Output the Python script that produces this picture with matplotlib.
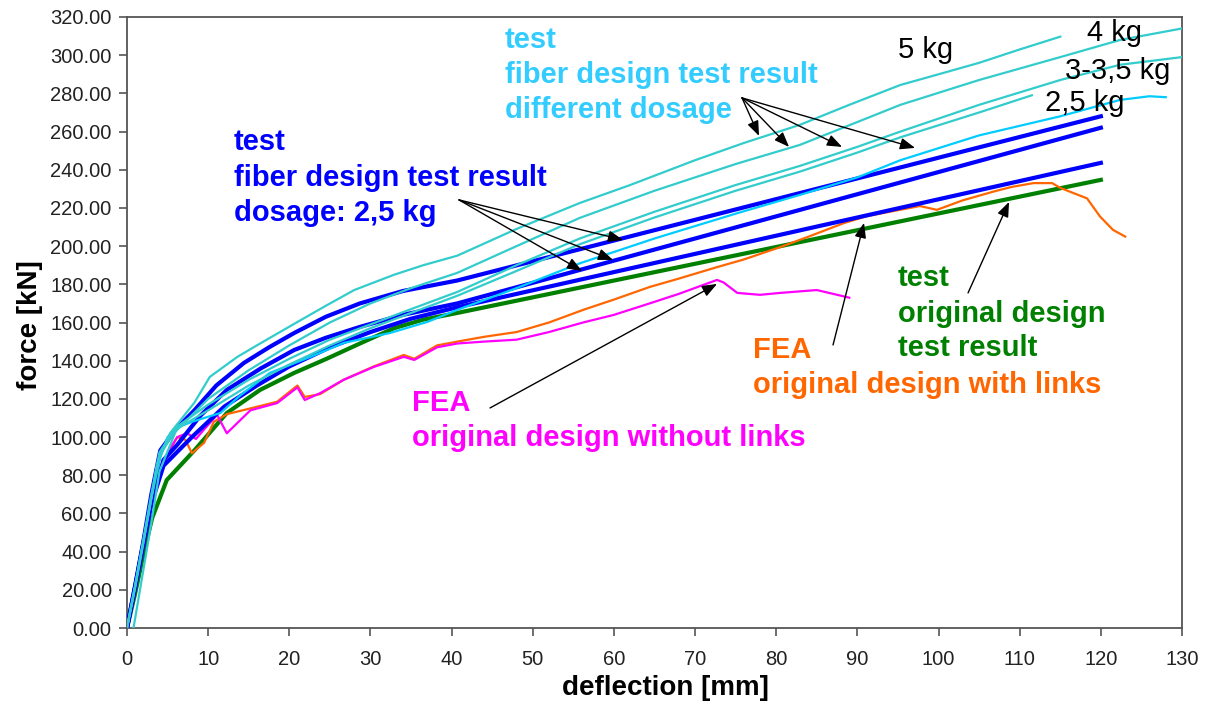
import matplotlib
matplotlib.use("Agg")
import matplotlib.pyplot as plt

plt.rcParams['font.family'] = ['Liberation Sans', 'DejaVu Sans']

# ---------------- data (deflection [mm], force [kN]) ----------------
# fiber design, 5 kg
x_5kg = [0, 1, 2, 3, 3.7, 5.3, 8.3, 10.2, 13.6, 16.4, 21.3, 24.6, 28, 32.9, 36.5, 40.7, 48, 55.8,
         62, 70, 76, 82.9, 89, 95.3, 100, 105, 110, 115]
y_5kg = [0, 22, 45, 68, 86, 102, 118, 131.5, 142, 149, 161, 169, 177, 185, 190, 195, 209, 222.6,
         232, 245, 254, 263.5, 274, 284.4, 290, 296, 303, 309.7]
# fiber design, 4 kg
x_4kg = [0.8, 2, 3, 4, 6, 10, 15, 20, 25, 30, 35, 40.7, 48, 55.8, 65, 75, 82.9, 90, 95.3, 105, 115,
         122.4, 130]
y_4kg = [0, 30, 55, 82, 103, 120, 135, 148, 160, 170, 178, 186, 200, 214.8, 229, 243, 253, 265, 274,
         287, 299, 308, 314]
# fiber design, 3-3,5 kg (two specimens)
x_3kg_a = [0, 1, 2, 3, 4, 6, 10, 15, 20, 25, 30, 35, 40.7, 48, 55.8, 65, 75, 82.9, 90, 95.3, 105, 115,
           122.4, 130]
y_3kg_a = [0, 22, 46, 70, 92, 105, 117, 130, 141, 151, 159, 167, 176, 190, 204, 218, 232, 242, 252,
           260, 274, 287, 295, 299]
x_3kg_b = [0, 1, 2, 3, 4, 6, 10, 15, 20, 25, 30, 35, 40.7, 48, 55.8, 65, 75, 82.9, 90, 95.3, 105, 111.5]
y_3kg_b = [0, 21, 44, 68, 90, 104, 114, 127, 138, 148, 157, 165, 174, 187, 201, 215, 229, 239, 249,
           257, 270, 279]
# fiber design, 2,5 kg (sky blue)
x_25kg = [0, 1, 2, 3, 4, 5, 6.2, 8, 11.5, 14, 17.6, 22.6, 26.7, 32.4, 37, 40.7, 48, 55.8, 65, 75, 82.9,
          90, 95.3, 105, 115, 122.4, 126, 128]
y_25kg = [0, 22, 45, 68, 88, 100, 105, 108, 112.6, 122, 133.6, 142, 149.3, 154.5, 160.3, 166.6, 178,
          191, 204, 217, 226.8, 236, 245, 258, 268, 276.6, 278.5, 278]
# fiber design, dosage 2,5 kg (three blue tests)
x_blue1 = [0, 1, 2, 3, 4.1, 6, 8.3, 11, 14.4, 17.5, 20.6, 24.5, 28.7, 34, 40.7, 120]
y_blue1 = [0, 22, 45, 70, 93, 104, 114, 127, 138.8, 147, 154.5, 163, 170, 176.5, 182, 268]
x_blue2 = [0, 1, 2, 3, 4.5, 6.2, 9, 12.3, 16.5, 20.6, 24.5, 28.7, 34, 40.7, 120]
y_blue2 = [0, 22, 44, 66, 88, 96, 111, 124.7, 136, 145.6, 152, 157.7, 164, 170, 262]
x_blue3 = [0, 1, 2, 3, 4.5, 8, 12, 16, 20, 25, 30, 35, 40.7, 120]
y_blue3 = [0, 21, 43, 65, 85, 100, 116, 127, 137, 147, 155, 162, 168, 243.6]
# original design test
x_orig = [0, 1, 2, 3.1, 4.9, 8.3, 12.3, 16.4, 20.6, 24.6, 28.7, 32.9, 36.5, 40.7, 120]
y_orig = [0, 18, 38, 57.6, 77.5, 93, 112.6, 124.7, 133.6, 141, 149, 157, 161.5, 165, 234.7]
# FEA original design with links
x_fea_links = [0, 1, 2, 3, 3.7, 5, 6.2, 7.2, 8, 9.5, 10.7, 12.3, 15.2, 18.5, 21, 21.9, 23.8, 26.7,
               30.4, 34.1, 35.4, 38.2, 40.7, 44, 48, 52, 56.2, 60, 64.4, 68, 72.7, 76, 80.5, 84,
               88.3, 91, 94, 97.7, 99.8, 103, 106.8, 109, 111.7, 114, 115, 116.5, 118.3, 119.9,
               121.5, 123]
y_fea_links = [0, 20, 42, 64, 76, 91, 100, 98.5, 91.5, 97, 108, 112, 115, 118.5, 127, 121, 122.5, 130,
               137, 143, 141, 148, 150, 152.5, 155, 160, 166.6, 172, 178.6, 183, 189, 193, 199.5, 205,
               212, 215.5, 218, 221, 219, 224, 228.6, 231, 233, 233, 230.5, 228, 225, 215.5,
               208.5, 205]
# FEA original design without links
x_fea_nolinks = [0, 1, 2, 3, 3.7, 5, 6.2, 7.4, 8.5, 9.5, 11.1, 12.3, 15.2, 18.5, 21, 21.9, 23.8, 26.7,
                 30.4, 34.1, 35.4, 38.2, 40.7, 44, 48, 52, 56.2, 60, 64.4, 68, 72.7, 73.5, 75.2, 78,
                 80.5, 85, 87, 89]
y_fea_nolinks = [0, 20, 42, 64, 76, 92, 100, 102, 99, 104, 111.6, 102, 114, 117.8, 126, 119.4, 123, 130,
                 136.7, 142, 140.4, 147, 149, 150, 151, 155, 160, 164, 170, 175, 182.3, 181, 175.5,
                 174.5, 175.5, 177, 175, 173]

x_ticks = list(range(0, 131, 10))
y_ticks = list(range(0, 321, 20))

# ---------------- colours ----------------
C_TEAL = '#33CCCC'
C_SKY = '#00CCFF'
C_SKYTXT = '#33CCFF'
C_BLUE = '#0000FF'
C_GREEN = '#008000'
C_ORANGE = '#FF6600'
C_MAGENTA = '#FF00FF'

fig = plt.figure(figsize=(12.06, 7.01), dpi=100)
ax = fig.add_axes([127 / 1206, 1 - 628 / 701, (1182 - 127) / 1206, (628 - 17) / 701])

ax.plot(x_orig, y_orig, color=C_GREEN, lw=3, zorder=2)
ax.plot(x_fea_links, y_fea_links, color=C_ORANGE, lw=1.6, zorder=3)
ax.plot(x_fea_nolinks, y_fea_nolinks, color=C_MAGENTA, lw=1.6, zorder=3)
for xs, ys in [(x_blue1, y_blue1), (x_blue2, y_blue2), (x_blue3, y_blue3)]:
    ax.plot(xs, ys, color=C_BLUE, lw=3, zorder=4)
ax.plot(x_25kg, y_25kg, color=C_SKY, lw=1.6, zorder=5)
for xs, ys in [(x_3kg_a, y_3kg_a), (x_3kg_b, y_3kg_b), (x_4kg, y_4kg), (x_5kg, y_5kg)]:
    ax.plot(xs, ys, color=C_TEAL, lw=1.6, zorder=5)

ax.set_xlim(0, 130)
ax.set_ylim(0, 320)
ax.set_xticks(x_ticks)
ax.set_yticks(y_ticks)
ax.set_yticklabels([f"{v:.2f}" for v in y_ticks])
ax.set_xticklabels([str(v) for v in x_ticks])
for s in ax.spines.values():
    s.set_color('#555555')
    s.set_linewidth(1.3)
ax.tick_params(axis='both', direction='out', length=6, width=1.2, color='#555555',
               labelsize=14.5, labelcolor='#222222')
ax.tick_params(axis='x', pad=10)
ax.tick_params(axis='y', pad=5)

ax.set_xlabel('deflection [mm]', fontsize=20, fontweight='bold', va='center')
ax.set_ylabel('force [kN]', fontsize=20, fontweight='bold', va='center')
ax.xaxis.set_label_coords((665 - 127) / 1055, -(688 - 628) / 611)
ax.yaxis.set_label_coords(-(127 - 30) / 1055, (628 - 325) / 611)


def px2d(px, py):
    return (px - 127) / 8.115, (628 - py) / 1.909


def label(px, py, s, color, weight='bold', size=21):
    x, y = px2d(px, py)
    ax.text(x, y, s, color=color, fontsize=size, fontweight=weight, ha='left', va='center',
            zorder=8)


# annotation texts
for py, s in [(40, 'test'), (75, 'fiber design test result'), (110, 'different dosage')]:
    label(505, py, s, C_SKYTXT)
for py, s in [(142, 'test'), (178, 'fiber design test result'), (213, 'dosage: 2,5 kg')]:
    label(234, py, s, C_BLUE)
for py, s in [(278, 'test'), (314, 'original design'), (348, 'test result')]:
    label(898, py, s, C_GREEN)
for py, s in [(350, 'FEA'), (385, 'original design with links')]:
    label(753, py, s, C_ORANGE)
for py, s in [(403, 'FEA'), (438, 'original design without links')]:
    label(412, py, s, C_MAGENTA)
label(898, 50, '5 kg', 'black', weight='normal')
label(1087, 33, '4 kg', 'black', weight='normal')
label(1065, 71, '3-3,5 kg', 'black', weight='normal')
label(1045, 103, '2,5 kg', 'black', weight='normal')

arrow_kw = dict(arrowstyle='-|>,head_length=0.9,head_width=0.35', color='black', lw=1.0,
                shrinkA=0, shrinkB=0)


def arrow(tail, head):
    ax.annotate('', xy=px2d(*head), xytext=px2d(*tail), arrowprops=arrow_kw, zorder=9)


for h in [(759, 136), (789, 147), (842, 147), (915, 148)]:
    arrow((742, 98), h)
for h in [(623, 240), (613, 260), (582, 271)]:
    arrow((459, 200), h)
arrow((968, 293), (1009, 202))
arrow((833, 345), (864, 223))
arrow((490, 408), (717, 284))

fig.savefig('out.png', dpi=100)
